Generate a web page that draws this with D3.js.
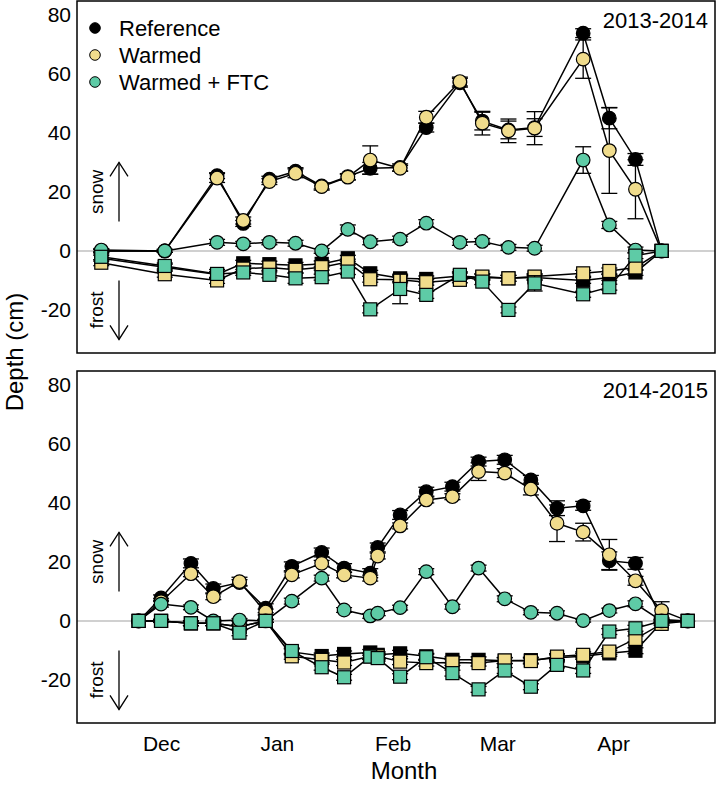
<!DOCTYPE html>
<html>
<head>
<meta charset="utf-8">
<script src="https://cdn.jsdelivr.net/npm/d3@7"></script>
<style>
  body { margin: 0; background: #fff; }
  svg { font-family: "Liberation Sans", Arial, sans-serif; display: block; }
</style>
</head>
<body>
<div id="chart"></div>
<script>
// ---- data (depth in cm, snow > 0, frost < 0) ----
const seriesNames = ["Reference", "Warmed", "Warmed + FTC"];
const seriesFill = ["#000000", "#f0dc8c", "#5ecba6"];
const yTicks = [-20, 0, 20, 40, 60, 80];

// 2013-2014
const dates1314 = ["2013-11-15", "2013-12-02", "2013-12-16", "2013-12-23", "2013-12-30", "2014-01-06", "2014-01-13",
  "2014-01-20", "2014-01-26", "2014-02-03", "2014-02-10", "2014-02-19", "2014-02-25", "2014-03-04", "2014-03-11",
  "2014-03-24", "2014-03-31", "2014-04-07", "2014-04-14"];
const snowRef1314  = [0, 0, 25.5, 9.3, 24.3, 27, 22, 25.2, 28, 28.3, 41.8, 57, 44, 41, 41.8, 73.8, 45, 31, 0];
const snowWarm1314 = [0, 0, 24.7, 10.3, 23.5, 26.3, 21.8, 25, 30.8, 28, 45.3, 57.4, 43.3, 40.7, 41.6, 65, 34, 20.9, 0];
const snowFtc1314  = [0.3, 0, 2.9, 2.4, 2.9, 2.6, 0, 7.3, 3.1, 4, 9.4, 2.9, 3.2, 1.2, 0.9, 30.8, 8.8, 0.3, 0];
const snowRefErr1314  = [0.5, 0.5, 1, 1, 1, 1.2, 1, 1, 2, 1.2, 1.5, 1.5, 3, 3, 3, 1.5, 3.6, 2, 0];
const snowWarmErr1314 = [0.5, 0.5, 1.5, 1.2, 1, 1.5, 1.2, 1, 4.8, 1, 2, 1.5, 4, 4, 5.6, 6.5, 14.5, 10, 0];
const snowFtcErr1314  = [0.5, 0.5, 1, 0.8, 0.8, 1, 0.8, 1.5, 1, 1, 1.2, 1, 1, 1, 1, 4.5, 1.2, 1, 0];
const frostRef1314  = [-2.5, -5.5, -8, -4.2, -4.5, -4.9, -4.4, -2.5, -7.6, -9.3, -9.5, -8.5, -9, -9.3, -9, -10, -9, -7.3, 0];
const frostWarm1314 = [-4, -7.9, -10, -6, -5.6, -6.4, -5.5, -3.8, -9.6, -9.8, -10.6, -9.8, -8.7, -9.3, -8.7, -7.6, -6.8, -5.6, 0];
const frostFtc1314  = [-2, -5.1, -7.8, -7.3, -8.1, -9.3, -8.9, -7, -19.8, -12.9, -14.9, -8.1, -10.4, -20, -11, -14.7, -12.3, -1.6, 0];
const frostRefErr1314  = [1, 1, 1, 1, 1, 1, 1, 1, 1, 1, 1, 1, 1, 1, 1, 1, 1, 1, 0];
const frostWarmErr1314 = [1, 1, 1, 1, 1, 1, 1, 1, 1, 1, 1, 1, 1, 1, 1, 1, 1, 1, 0];
const frostFtcErr1314  = [1, 1, 1.5, 1, 1, 1.7, 1, 1, 1.2, 5, 1.2, 1, 1, 1, 2.6, 1, 1, 1, 0];

// 2014-2015
const dates1415 = ["2014-11-25", "2014-12-01", "2014-12-09", "2014-12-15", "2014-12-22", "2014-12-29", "2015-01-05",
  "2015-01-13", "2015-01-19", "2015-01-26", "2015-01-28", "2015-02-03", "2015-02-10", "2015-02-17", "2015-02-24",
  "2015-03-03", "2015-03-10", "2015-03-17", "2015-03-24", "2015-03-31", "2015-04-07", "2015-04-14", "2015-04-21"];
const snowRef1415  = [0, 7.8, 19.5, 11, 13, 4.3, 18.5, 23.2, 17.9, 16.2, 24.9, 35.9, 43.8, 45.5, 54, 54.6, 47.8, 38.2, 39, 20.4, 19.5, 0.5, 0];
const snowWarm1415 = [0, 6.5, 16, 8.2, 13.3, 3, 15.6, 19.5, 15.6, 14.5, 22, 32.2, 41, 42.1, 50.6, 50.1, 44.7, 33.1, 30.1, 22.4, 13.6, 3.5, 0];
const snowFtc1415  = [0, 5.7, 4.6, 0, 0.3, 0, 6.7, 14.5, 3.7, 1.7, 2.6, 4.5, 16.7, 4.8, 17.9, 7.5, 2.9, 2.6, 0.1, 3.5, 5.8, 0, 0];
const snowRefErr1415  = [0, 1, 1.5, 1.5, 1, 1.5, 1.5, 1.5, 1.5, 1.5, 1.5, 1.5, 1.5, 1.5, 1.5, 1.5, 1.5, 2.5, 1.5, 3, 2, 0.5, 0];
const snowWarmErr1415 = [0, 1, 1, 1, 1.5, 1, 1, 1, 1, 1, 1, 1, 1, 1, 3, 1.5, 2, 6.2, 3, 5.2, 1.5, 3, 0];
const snowFtcErr1415  = [0, 1, 0.8, 0.5, 0.5, 0.5, 1, 1, 0.8, 0.8, 0.8, 0.8, 1, 0.8, 1, 1, 0.8, 0.8, 0.5, 0.8, 1, 0.5, 0];
const frostRef1415  = [0, 0, -0.8, -0.8, -2, 0, -10.5, -11.9, -11.2, -10.7, -11.5, -11, -12, -13.2, -13.2, -13.5, -13.3, -12.5, -12, -11, -10.1, -0.5, 0];
const frostWarm1415 = [0, 0, -0.8, -0.8, -2, 0, -12, -13.2, -14.1, -12, -12, -13.8, -14.3, -14.1, -14.3, -13.4, -13.6, -12.1, -11.5, -10.4, -6.1, -1, 0];
const frostFtc1415  = [0, 0, -0.8, -0.8, -4, 0, -10.2, -15.7, -19.1, -12.1, -12.6, -18.9, -12.3, -17.7, -23.2, -16.8, -22.3, -14.9, -16.8, -3.6, -2.5, 0, 0];
const frostRefErr1415  = [0, 0.5, 0.8, 0.8, 0.8, 0.5, 1, 1, 1, 1, 1, 1, 1, 1, 1, 1, 1, 1, 1, 1, 1, 0.5, 0];
const frostWarmErr1415 = [0, 0.5, 0.8, 0.8, 0.8, 0.5, 1, 1, 1, 1, 1, 1, 1, 1, 1, 1, 1, 1, 1, 1, 1, 0.5, 0];
const frostFtcErr1415  = [0, 0.5, 0.8, 0.8, 1, 0.5, 1, 1, 1, 1, 1, 1, 1, 1, 1, 1, 1, 1, 1, 1, 1, 0.5, 0];

// ---- layout ----
const width = 717, height = 786;
const left = 77, right = 715;
const panelTops = [1, 371];
const panelH = 352;

const parse = d3.timeParse("%Y-%m-%d");

const panels = [
  { label: "2013-2014", year: 2013, dates: dates1314,
    snow: [snowRef1314, snowWarm1314, snowFtc1314], snowErr: [snowRefErr1314, snowWarmErr1314, snowFtcErr1314],
    frost: [frostRef1314, frostWarm1314, frostFtc1314], frostErr: [frostRefErr1314, frostWarmErr1314, frostFtcErr1314] },
  { label: "2014-2015", year: 2014, dates: dates1415,
    snow: [snowRef1415, snowWarm1415, snowFtc1415], snowErr: [snowRefErr1415, snowWarmErr1415, snowFtcErr1415],
    frost: [frostRef1415, frostWarm1415, frostFtc1415], frostErr: [frostRefErr1415, frostWarmErr1415, frostFtcErr1415] }
];

const svg = d3.select("#chart").append("svg")
  .attr("width", width)
  .attr("height", height);

const r = 6.8, sq = 13, cap = 8;

panels.forEach(function(p, pi) {
  var top = panelTops[pi], bottom = top + panelH;
  var x = d3.scaleTime()
    .domain([new Date(p.year, 10, 8, 12), new Date(p.year + 1, 3, 28, 7)])
    .range([left, right]);
  var y = d3.scaleLinear()
    .domain([-34.6, 84.7])
    .range([bottom, top]);

  var g = svg.append("g");

  // zero line
  g.append("line")
    .attr("x1", left).attr("x2", right)
    .attr("y1", y(0)).attr("y2", y(0))
    .attr("stroke", "#c0c0c0").attr("stroke-width", 1.5);

  // y axis labels only (plain hyphen for negatives, as in the figure)
  var ya = g.append("g")
    .attr("transform", "translate(" + left + ",0)")
    .call(d3.axisLeft(y).tickValues(yTicks).tickFormat(function(d) { return String(d); }).tickSize(0).tickPadding(6));
  ya.select(".domain").remove();
  ya.selectAll("text").style("font-size", "21px").attr("fill", "#000");

  // x axis on the lower panel
  if (pi === 1) {
    var xa = g.append("g")
      .attr("transform", "translate(0," + bottom + ")")
      .call(d3.axisBottom(x).ticks(d3.timeMonth.every(1)).tickFormat(d3.timeFormat("%b")).tickSize(0).tickPadding(13));
    xa.select(".domain").remove();
    xa.selectAll("text").style("font-size", "21px").attr("fill", "#000");
  }

  // snow / frost annotations
  var ax = left + 42;
  [[10, 30, "snow", 20], [-10, -30, "frost", -20]].forEach(function(a) {
    var dir = a[1] > 0 ? 1 : -1;
    g.append("line")
      .attr("x1", ax).attr("x2", ax)
      .attr("y1", y(a[0])).attr("y2", y(a[1]))
      .attr("stroke", "#000").attr("stroke-width", 1.3);
    g.append("path")
      .attr("d", "M" + (ax - 9) + "," + (y(a[1]) + dir * 14) + "L" + ax + "," + y(a[1]) + "L" + (ax + 9) + "," + (y(a[1]) + dir * 14))
      .attr("fill", "none").attr("stroke", "#000").attr("stroke-width", 1.3);
    g.append("text")
      .attr("transform", "translate(" + (left + 26) + "," + y(a[3]) + ") rotate(-90)")
      .attr("text-anchor", "middle")
      .style("font-size", "19px")
      .text(a[2]);
  });

  var line = d3.line()
    .x(function(d) { return x(d.date); })
    .y(function(d) { return y(d.v); });

  seriesNames.forEach(function(name, si) {
    ["snow", "frost"].forEach(function(kind) {
      var vals = p[kind][si], errs = p[kind + "Err"][si];
      var pts = p.dates.map(function(ds, i) {
        return { date: parse(ds), v: vals[i], e: errs[i] };
      });
      var sg = g.append("g");

      sg.append("path")
        .datum(pts)
        .attr("d", line)
        .attr("fill", "none")
        .attr("stroke", "#000")
        .attr("stroke-width", 1.5);

      // error bars
      var eb = sg.selectAll(".eb").data(pts.filter(function(d) { return d.e > 0; }))
        .enter().append("g").attr("class", "eb");
      eb.append("line")
        .attr("x1", function(d) { return x(d.date); })
        .attr("x2", function(d) { return x(d.date); })
        .attr("y1", function(d) { return y(d.v - d.e); })
        .attr("y2", function(d) { return y(d.v + d.e); })
        .attr("stroke", "#000").attr("stroke-width", 1.3);
      [-1, 1].forEach(function(s) {
        eb.append("line")
          .attr("x1", function(d) { return x(d.date) - cap; })
          .attr("x2", function(d) { return x(d.date) + cap; })
          .attr("y1", function(d) { return y(d.v + s * d.e); })
          .attr("y2", function(d) { return y(d.v + s * d.e); })
          .attr("stroke", "#000").attr("stroke-width", 1.3);
      });

      if (kind === "snow") {
        sg.selectAll("circle").data(pts).enter().append("circle")
          .attr("cx", function(d) { return x(d.date); })
          .attr("cy", function(d) { return y(d.v); })
          .attr("r", r)
          .attr("fill", seriesFill[si])
          .attr("stroke", "#000").attr("stroke-width", 1.2);
      } else {
        sg.selectAll("rect").data(pts).enter().append("rect")
          .attr("x", function(d) { return x(d.date) - sq / 2; })
          .attr("y", function(d) { return y(d.v) - sq / 2; })
          .attr("width", sq).attr("height", sq)
          .attr("fill", seriesFill[si])
          .attr("stroke", "#000").attr("stroke-width", 1.2);
      }
    });
  });

  // frame
  g.append("rect")
    .attr("x", left).attr("y", top)
    .attr("width", right - left).attr("height", panelH)
    .attr("fill", "none").attr("stroke", "#000").attr("stroke-width", 1.5);

  // season label
  g.append("text")
    .attr("x", right - 7).attr("y", top + 27)
    .attr("text-anchor", "end")
    .style("font-size", "22px")
    .text(p.label);
});

// legend
var lg = svg.append("g");
seriesNames.forEach(function(name, i) {
  var ly = 28 + i * 27;
  lg.append("circle")
    .attr("cx", 95).attr("cy", ly).attr("r", 5.3)
    .attr("fill", seriesFill[i])
    .attr("stroke", "#000").attr("stroke-width", 1);
  lg.append("text")
    .attr("x", 119).attr("y", ly)
    .attr("dy", "0.36em")
    .style("font-size", "22px")
    .text(name);
});

// axis titles
svg.append("text")
  .attr("transform", "translate(23,352) rotate(-90)")
  .attr("text-anchor", "middle")
  .style("font-size", "24px")
  .text("Depth (cm)");
svg.append("text")
  .attr("x", 404).attr("y", 779)
  .attr("text-anchor", "middle")
  .style("font-size", "24px")
  .text("Month");
</script>
</body>
</html>
